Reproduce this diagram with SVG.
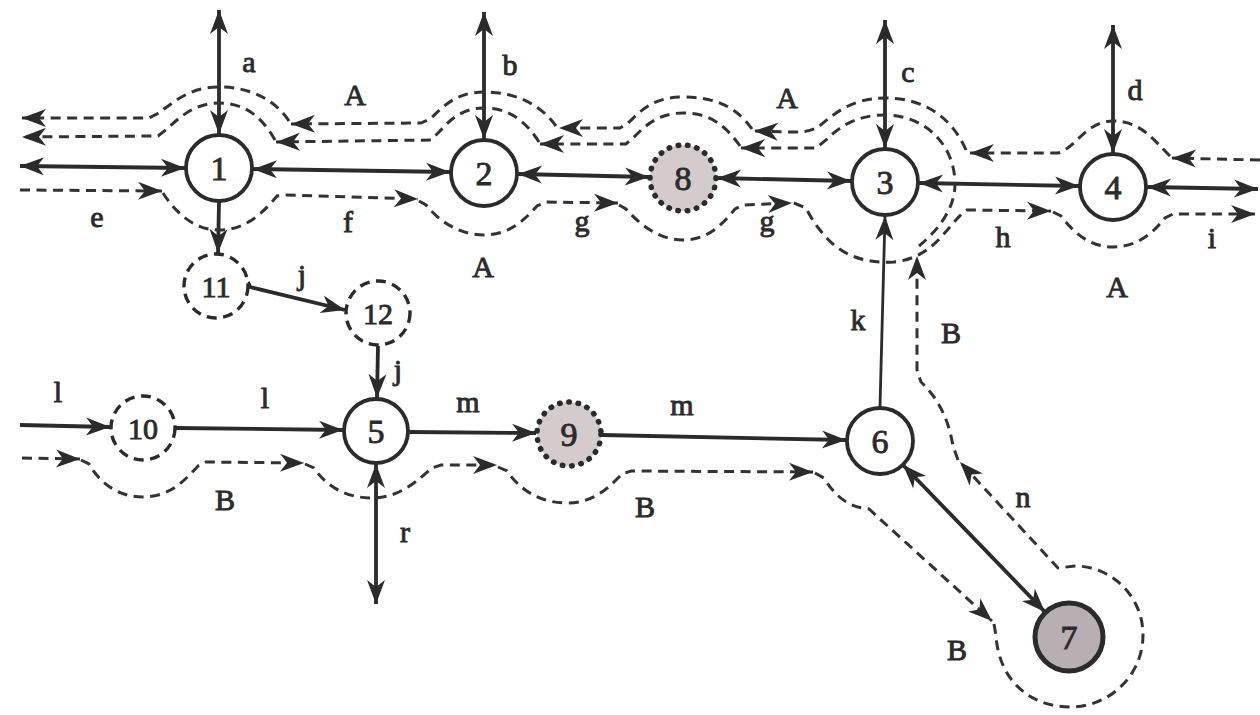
<svg xmlns="http://www.w3.org/2000/svg" width="1260" height="715" viewBox="0 0 1260 715">
  <defs>
    <style>
      .node { fill: #ffffff; stroke: #2b2b2b; stroke-width: 3.8; }
      .dashed { stroke-dasharray: 10 6.5; stroke-width: 3.4; }
      .dotted { stroke-dasharray: 0.5 8.9; stroke-linecap: round; stroke-width: 5.5; fill: #d3cbcc; }
      .heavy { fill: #b7afb1; stroke-width: 5; }
      .edge { fill: none; stroke: #2b2b2b; stroke-width: 3.8; }
      .thin { stroke-width: 2.8; }
      .route { fill: none; stroke: #333333; stroke-width: 3; stroke-dasharray: 10 6.5; }
      .lbl { font-family: "Liberation Serif", "Times New Roman", serif; font-size: 30px; fill: #2b2b2b; stroke: #2b2b2b; stroke-width: 0.9; text-anchor: middle; }
      .num { font-size: 34px; }
      .num2 { font-size: 30px; }
    </style>
    <!-- notched filled arrowhead, reused at both ends of two-way links -->
    <marker id="ah" viewBox="-26 -11 28 22" refX="0" refY="0" markerWidth="28" markerHeight="22" markerUnits="userSpaceOnUse" orient="auto-start-reverse">
      <path d="M0,0 L-24,-9 L-17,0 L-24,9 Z" fill="#2b2b2b"/>
    </marker>
  </defs>
  <rect width="1260" height="715" fill="#ffffff"/>

  <!-- links -->
  <g id="connectors">
    <!-- external access links -->
    <path class="edge" d="M219,10 L219,134" marker-start="url(#ah)" marker-end="url(#ah)"/>
    <path class="edge" d="M484,12 L484,139" marker-start="url(#ah)" marker-end="url(#ah)"/>
    <path class="edge" d="M885,20 L885,148" marker-start="url(#ah)" marker-end="url(#ah)"/>
    <path class="edge" d="M1113,25 L1113,153" marker-start="url(#ah)" marker-end="url(#ah)"/>
    <path class="edge" d="M20,166 L185,168" marker-start="url(#ah)" marker-end="url(#ah)"/>
    <path class="edge" d="M1147,187 L1258,189" marker-start="url(#ah)" marker-end="url(#ah)"/>
    <path class="edge" d="M376,464 L376,604" marker-start="url(#ah)" marker-end="url(#ah)"/>

    <!-- trunk between main nodes -->
    <path class="edge" d="M253,169 L450,172" marker-start="url(#ah)" marker-end="url(#ah)"/>
    <path class="edge" d="M518,174 L649,177" marker-start="url(#ah)" marker-end="url(#ah)"/>
    <path class="edge" d="M717,178 L851,181" marker-start="url(#ah)" marker-end="url(#ah)"/>
    <path class="edge" d="M919,183 L1079,186" marker-start="url(#ah)" marker-end="url(#ah)"/>
    <path class="edge" d="M903,465 L1045,612" marker-start="url(#ah)" marker-end="url(#ah)"/>

    <!-- one-way links -->
    <path class="edge" d="M219,202 L218,253" marker-end="url(#ah)"/>
    <path class="edge" d="M248,282 L250,287 L345,310" marker-end="url(#ah)"/>
    <path class="edge" d="M378,346 L377,398" marker-end="url(#ah)"/>
    <path class="edge" d="M20,425 L110,427" marker-end="url(#ah)"/>
    <path class="edge" d="M176,428 L343,430" marker-end="url(#ah)"/>
    <path class="edge" d="M409,432 L536,433" marker-end="url(#ah)"/>
    <path class="edge" d="M602,435 L846,440" marker-end="url(#ah)"/>
    <path class="edge thin" d="M880,407 L885,216" marker-end="url(#ah)"/>

    <!-- route A, westbound (outer of the pair) -->
    <path class="route" d="M1260,160 L1172,158" marker-end="url(#ah)"/>
    <path class="route" d="M1170,156 C1152,138 1140,121 1113,121 C1086,121 1076,148 1058,153 L970,153" marker-end="url(#ah)"/>
    <path class="route" d="M966,150 C952,118 925,98 885,98 C850,98 832,116 818,127 C810,132 800,132 790,132 L754,131" marker-end="url(#ah)"/>
    <path class="route" d="M752,129 C736,106 714,97 683,97 C652,97 640,112 628,123 L620,128 L559,128" marker-end="url(#ah)"/>
    <path class="route" d="M556,126 C540,104 515,92 484,92 C455,92 442,108 430,119 L421,123 L291,124" marker-end="url(#ah)"/>
    <path class="route" d="M289,121 C274,99 250,87 219,87 C188,87 172,104 157,114 L149,118 L22,118" marker-end="url(#ah)"/>

    <!-- route B, westbound (inner of the pair) -->
    <path class="route" d="M919,246 C936,232 955,210 955,184 C955,145 925,115 885,115 C855,115 838,128 826,140 L816,148 L741,148" marker-end="url(#ah)"/>
    <path class="route" d="M740,146 C725,125 710,113 683,113 C658,113 645,126 634,137 L626,144 L540,144" marker-end="url(#ah)"/>
    <path class="route" d="M539,142 C525,120 508,108 484,108 C462,108 450,120 440,131 L431,140 L276,142" marker-end="url(#ah)"/>
    <path class="route" d="M275,140 C262,117 245,103 219,103 C195,103 180,117 168,128 L158,136 L22,137" marker-end="url(#ah)"/>

    <!-- route A, eastbound -->
    <path class="route" d="M20,190 L162,191" marker-end="url(#ah)"/>
    <path class="route" d="M163,193 C172,207 190,230 219,230 C248,230 265,210 277,196 L286,195 L418,199" marker-end="url(#ah)"/>
    <path class="route" d="M419,201 L426,205 C440,222 460,235 484,235 C510,235 525,219 537,206 L546,202 L618,203" marker-end="url(#ah)"/>
    <path class="route" d="M619,205 L626,209 C641,226 660,240 683,240 C710,240 725,221 735,209 L743,205 L792,203" marker-end="url(#ah)"/>
    <path class="route" d="M794,203 L806,208 C815,226 830,246 850,255 C864,261 878,263 894,262 C914,260 930,250 942,236 C953,224 959,215 967,210 L1051,211" marker-end="url(#ah)"/>
    <path class="route" d="M1053,212 L1061,216 C1075,235 1092,247 1113,247 C1140,247 1155,230 1165,218 L1173,214 L1255,214" marker-end="url(#ah)"/>

    <!-- route B, eastbound then the loop round node 7 and back up -->
    <path class="route" d="M22,458 L80,459" marker-end="url(#ah)"/>
    <path class="route" d="M81,460 L89,464 C101,485 120,497 143,497 C170,497 185,480 198,466 L206,462 L304,463" marker-end="url(#ah)"/>
    <path class="route" d="M305,464 L314,468 C326,486 346,498 372,498 C400,498 418,480 432,468 L441,465 L497,465" marker-end="url(#ah)"/>
    <path class="route" d="M498,467 L507,471 C520,490 540,503 567,503 C595,503 610,486 622,474 L631,471 L813,472" marker-end="url(#ah)"/>
    <path class="route" d="M815,473 L824,478 C837,499 850,507 869,509 L992,621" marker-end="url(#ah)"/>
    <path class="route" d="M994,624 L996,636 C999,680 1030,707 1070,707 C1110,707 1143,675 1143,635 C1143,595 1110,566 1075,566 L1058,568 L960,462" marker-end="url(#ah)"/>
    <path class="route" d="M958,460 L953,446 C948,416 936,396 921,382 L917,370 L917,256" marker-end="url(#ah)"/>
  </g>

  <!-- nodes -->
  <g id="node-1"><circle class="node" cx="219" cy="168" r="33"/><text class="lbl num" x="219" y="180">1</text></g>
  <g id="node-2"><circle class="node" cx="484" cy="173" r="33"/><text class="lbl num" x="484" y="185">2</text></g>
  <g id="node-8"><circle class="node dotted" cx="683" cy="178" r="33"/><text class="lbl num" x="683" y="190">8</text></g>
  <g id="node-3"><circle class="node" cx="885" cy="182" r="33"/><text class="lbl num" x="885" y="194">3</text></g>
  <g id="node-4"><circle class="node" cx="1113" cy="187" r="33"/><text class="lbl num" x="1113" y="199">4</text></g>
  <g id="node-11"><circle class="node dashed" cx="216" cy="286" r="32"/><text class="lbl num2" x="216" y="297">11</text></g>
  <g id="node-12"><circle class="node dashed" cx="378" cy="313" r="32"/><text class="lbl num2" x="378" y="324">12</text></g>
  <g id="node-10"><circle class="node dashed" cx="143" cy="428" r="32"/><text class="lbl num2" x="143" y="439">10</text></g>
  <g id="node-5"><circle class="node" cx="376" cy="431" r="32"/><text class="lbl num" x="376" y="443">5</text></g>
  <g id="node-9"><circle class="node dotted" cx="569" cy="434" r="32"/><text class="lbl num" x="569" y="446">9</text></g>
  <g id="node-6"><circle class="node" cx="880" cy="441" r="33"/><text class="lbl num" x="880" y="453">6</text></g>
  <g id="node-7"><circle class="node heavy" cx="1069" cy="637" r="34"/><text class="lbl num" x="1069" y="649">7</text></g>

  <!-- link and route labels -->
  <g id="labels">
    <text class="lbl" x="249" y="72">a</text>
    <text class="lbl" x="510" y="75">b</text>
    <text class="lbl" x="908" y="82">c</text>
    <text class="lbl" x="1135" y="100">d</text>
    <text class="lbl" x="97" y="227">e</text>
    <text class="lbl" x="348" y="232">f</text>
    <text class="lbl" x="582" y="231">g</text>
    <text class="lbl" x="767" y="231">g</text>
    <text class="lbl" x="1003" y="247">h</text>
    <text class="lbl" x="1212" y="248">i</text>
    <text class="lbl" x="302" y="285">j</text>
    <text class="lbl" x="398" y="380">j</text>
    <text class="lbl" x="858" y="330">k</text>
    <text class="lbl" x="58" y="402">l</text>
    <text class="lbl" x="265" y="408">l</text>
    <text class="lbl" x="468" y="412">m</text>
    <text class="lbl" x="682" y="415">m</text>
    <text class="lbl" x="1023" y="507">n</text>
    <text class="lbl" x="405" y="542">r</text>
    <text class="lbl" x="355" y="105">A</text>
    <text class="lbl" x="787" y="108">A</text>
    <text class="lbl" x="483" y="277">A</text>
    <text class="lbl" x="1117" y="297">A</text>
    <text class="lbl" x="225" y="510">B</text>
    <text class="lbl" x="645" y="517">B</text>
    <text class="lbl" x="951" y="343">B</text>
    <text class="lbl" x="957" y="660">B</text>
  </g>
</svg>
